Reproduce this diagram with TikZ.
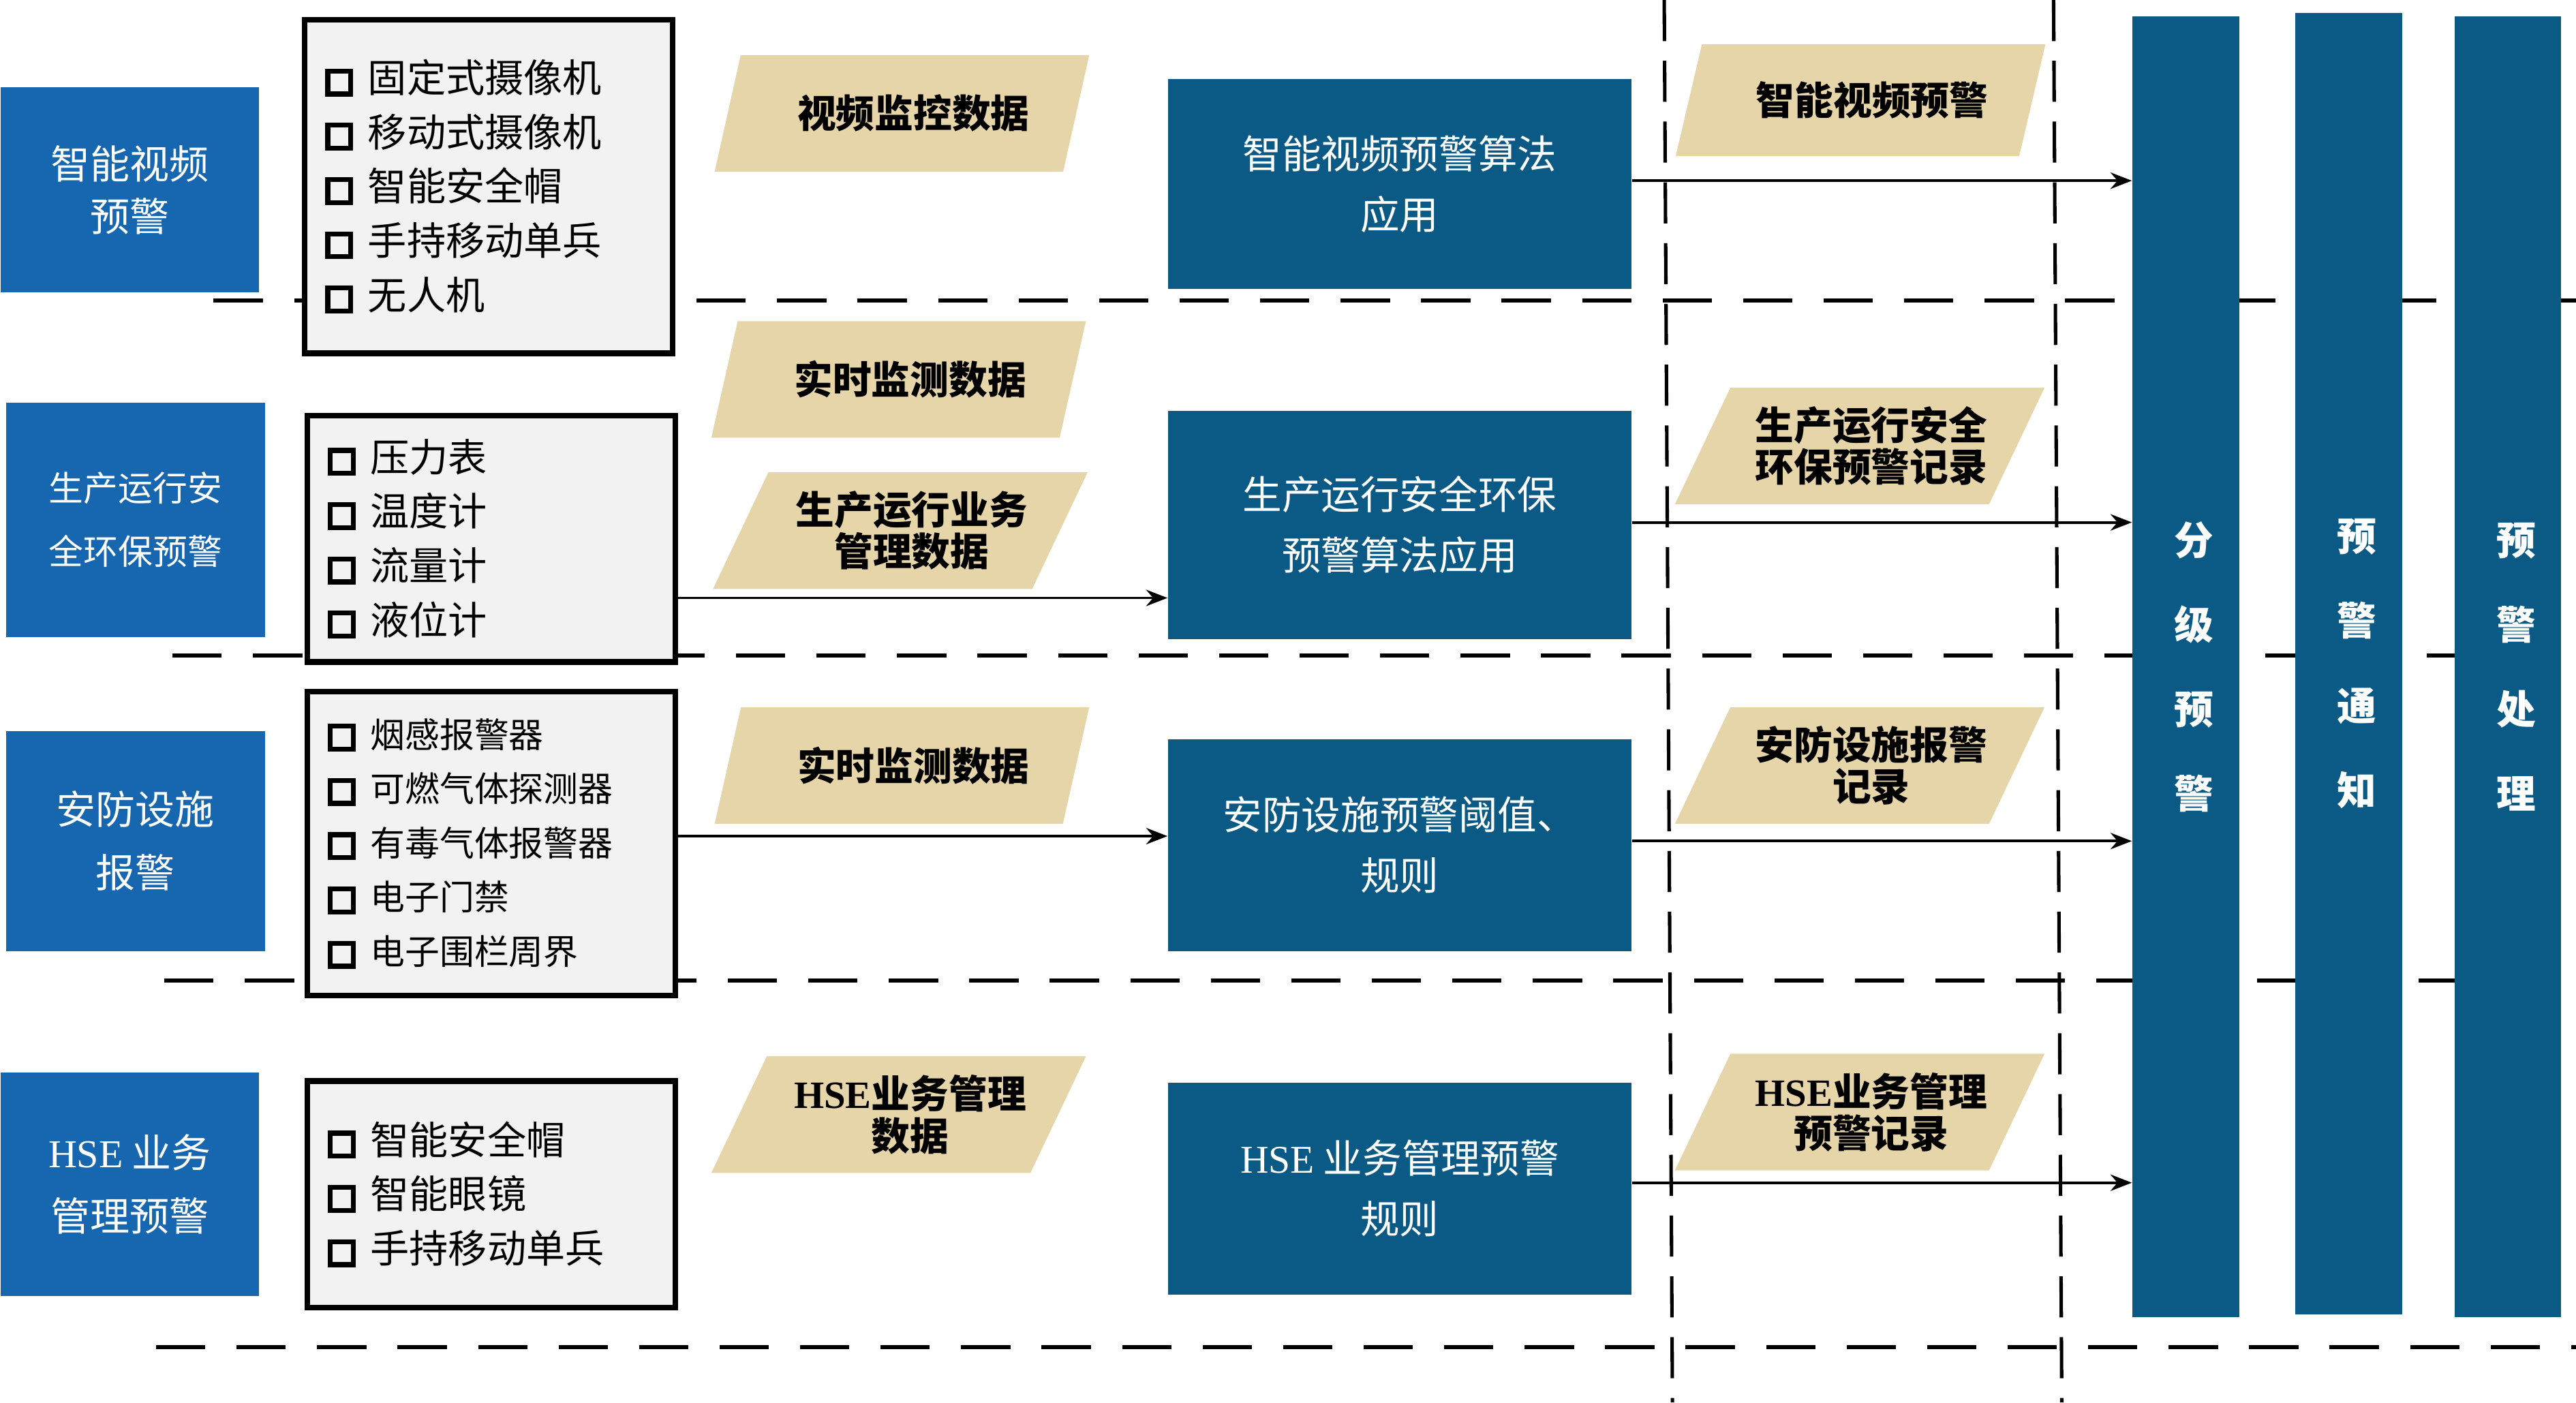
\documentclass[tikz,border=0pt]{standalone}
\usepackage{fontspec}
\setmainfont{Liberation Serif}
\newfontfamily\cjk{Noto Sans CJK SC}
\usepackage{tikz}
\usetikzlibrary{shapes}
\usetikzlibrary{arrows.meta}
\usetikzlibrary{positioning}
\definecolor{bleu}{HTML}{1767B0}
\definecolor{bleufonce}{HTML}{0B5A85}
\definecolor{sable}{HTML}{E5D5A9}
\definecolor{grisclair}{HTML}{F2F2F2}
\newcommand{\ckbox}{\raisebox{0.1mm}{\setlength{\fboxrule}{1.7pt}\setlength{\fboxsep}{0pt}\fbox{\rule{0pt}{2.2mm}\rule{2.2mm}{0pt}}}\hspace{1.8mm}}
\newcommand{\decal}[1][2.8mm]{\hspace*{#1}}
\tikzstyle{categorie}=[rectangle,fill=bleu,text=white,minimum width=31.5mm,
        align=center,inner sep=0pt,font=\cjk\fontsize{13.7}{22}\selectfont]
\tikzstyle{liste}=[rectangle,draw,line width=2pt,fill=grisclair,text width=39.8mm,
        inner xsep=2.5mm,align=left,font=\cjk\fontsize{13.5}{18.8}\selectfont]
\tikzstyle{donnee}=[
        trapezium,
        trapezium left angle=55,
        trapezium right angle=125,
        trapezium stretches body=true,
        fill=sable,
        minimum width=45.6mm,
        minimum height=14.2mm,
        inner sep=0pt,
        align=center,
        font=\cjk\bfseries\fontsize{13.4}{14.5}\selectfont
]
\tikzstyle{algo}=[rectangle,fill=bleufonce,text=white,minimum width=56.4mm,
        align=center,font=\cjk\fontsize{13.6}{21}\selectfont]
\tikzstyle{etape}=[rectangle,fill=bleufonce,text=white,minimum width=13mm,minimum height=158.4mm,
        align=center,font=\cjk\bfseries\fontsize{13.6}{29.3}\selectfont]
\tikzstyle{suite}=[-{Stealth[length=2.6mm,width=2mm]},line width=0.9pt]
\tikzstyle{separ}=[dash pattern=on 6mm off 3.8mm,line width=1.3pt]
\tikzstyle{separv}=[dash pattern=on 5mm off 2.4mm,line width=1.2pt]

\begin{document}
\begin{tikzpicture}[x=0.2mm,y=-0.2mm]
\useasboundingbox (0,0) rectangle (1568,853.7);
%separations
\foreach \xa/\ya in {130/183,105/399,100/597,95/820}
  \draw[separ] (\xa,\ya) -- (1568,\ya);
\draw[separv] (1013,0) -- (1018,853.7);
\draw[separv] (1250,0) -- (1255,853.7);
%categories
\node[categorie,minimum height=25mm,font=\cjk\fontsize{13.7}{18.2}\selectfont] (c1) at (79,115.5) {智能视频\\预警};
\node[categorie,minimum height=28.6mm,font=\cjk\fontsize{12}{22}\selectfont] (c2) at (82.5,316.5) {生产运行安\\全环保预警};
\node[categorie,minimum height=26.8mm] (c3) at (82.5,512) {安防设施\\报警};
\node[categorie,minimum height=27.2mm] (c4) at (79,721) {\textrm{HSE} 业务\\管理预警};
%equipements
\node[liste,minimum height=40.6mm] (l1) at (297.5,113.5) {\ckbox{}固定式摄像机\\\ckbox{}移动式摄像机\\\ckbox{}智能安全帽\\\ckbox{}手持移动单兵\\\ckbox{}无人机};
\node[liste,minimum height=30mm] (l2) at (299,328) {\ckbox{}压力表\\\ckbox{}温度计\\\ckbox{}流量计\\\ckbox{}液位计};
\node[liste,minimum height=37mm,font=\cjk\fontsize{12}{18.8}\selectfont] (l3) at (299,513.5) {\ckbox{}烟感报警器\\\ckbox{}可燃气体探测器\\\ckbox{}有毒气体报警器\\\ckbox{}电子门禁\\\ckbox{}电子围栏周界};
\node[liste,minimum height=27.6mm] (l4) at (299,727) {\ckbox{}智能安全帽\\\ckbox{}智能眼镜\\\ckbox{}手持移动单兵};
%donnees
\node[donnee] (d1) at (549,69) {\decal{}视频监控数据};
\node[donnee] (d2) at (547,231) {\decal{}实时监测数据};
\node[donnee] (d3) at (548,323) {\decal{}生产运行业务\\\decal{}管理数据};
\node[donnee] (d4) at (549,466) {\decal{}实时监测数据};
\node[donnee] (d5) at (547,678.5) {\decal{}\textrm{HSE}业务管理\\\decal{}数据};
%algorithmes
\node[algo,minimum height=25.6mm] (m1) at (852,112) {智能视频预警算法\\应用};
\node[algo,minimum height=27.8mm] (m2) at (852,319.5) {生产运行安全环保\\预警算法应用};
\node[algo,minimum height=25.8mm] (m3) at (852,514.5) {安防设施预警阈值、\\规则};
\node[algo,minimum height=25.8mm] (m4) at (852,723.5) {\textrm{HSE} 业务管理预警\\规则};
%enregistrements
\node[donnee,minimum width=45mm,minimum height=13.6mm] (r1) at (1132.5,61) {\decal{}智能视频预警};
\node[donnee,minimum width=45mm] (r2) at (1132,271.5) {\decal{}生产运行安全\\\decal{}环保预警记录};
\node[donnee,minimum width=45mm] (r3) at (1132,466) {\decal{}安防设施报警\\\decal{}记录};
\node[donnee,minimum width=45mm] (r4) at (1132,677) {\decal{}\textrm{HSE}业务管理\\\decal{}预警记录};
%etapes
\node[etape] (g1) at (1330.5,406) {\decal[2mm]分\\\decal[2mm]级\\\decal[2mm]预\\\decal[2mm]警};
\node[etape] (g2) at (1429.5,404) {\decal[2mm]预\\\decal[2mm]警\\\decal[2mm]通\\\decal[2mm]知};
\node[etape] (g3) at (1526.5,406) {\decal[2mm]预\\\decal[2mm]警\\\decal[2mm]处\\\decal[2mm]理};
%fleches
\draw[suite] ([yshift=-7.2mm]l2.east) -- ([yshift=-7.2mm]l2.east -| m2.west);
\draw[suite] ([yshift=0.9mm]l3.east) -- ([yshift=0.9mm]l3.east -| m3.west);
\draw[suite] ([yshift=0.4mm]m1.east) -- ([yshift=0.4mm]m1.east -| g1.west);
\draw[suite] ([yshift=0.3mm]m2.east) -- ([yshift=0.3mm]m2.east -| g1.west);
\draw[suite] ([yshift=0.5mm]m3.east) -- ([yshift=0.5mm]m3.east -| g1.west);
\draw[suite] ([yshift=0.7mm]m4.east) -- ([yshift=0.7mm]m4.east -| g1.west);
\end{tikzpicture}
\end{document}
